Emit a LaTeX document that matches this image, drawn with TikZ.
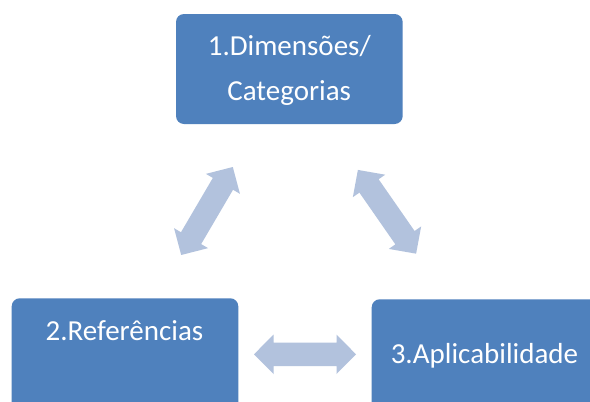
\documentclass[tikz,border=0pt]{standalone}
\usepackage{fontspec}
\setmainfont{Carlito}
\definecolor{boxblue}{HTML}{4F81BD}
\definecolor{arrowblue}{RGB}{178,194,221}
\tikzset{
  box/.style={fill=boxblue, draw=none, rounded corners=8pt, inner sep=0pt, outer sep=0pt},
  lbl/.style={text=white, inner sep=0pt, outer sep=0pt, font=\fontsize{29}{34}\selectfont},
  dblarrow/.pic={
    \fill[arrowblue] (-51,0) -- (-31.5,19.7) -- (-31.5,11.7) -- (31.5,11.7) -- (31.5,19.7)
      -- (51,0) -- (31.5,-19.7) -- (31.5,-11.7) -- (-31.5,-11.7) -- (-31.5,-19.7) -- cycle;
    \coordinate (-c) at (0,0);
  }
}
\begin{document}
\begin{tikzpicture}[x=1pt,y=1pt]
\useasboundingbox (0,0) rectangle (590,-402);
\clip (0,0) rectangle (590,-402);
\fill[white] (0,0) rectangle (590,-402);
% boxes
\draw[box] (176,-14) rectangle (402.7,-124);
\node[inner sep=0pt] (top) at (289.3,-69) {};
\draw[box] (11.7,-298.3) rectangle (238.3,-420);
\node[inner sep=0pt] (left) at (125,-350) {};
\draw[box] (371.7,-299.3) rectangle (598.3,-420);
\node[inner sep=0pt] (right) at (485,-350) {};
% labels
\node[lbl, anchor=base] (t1) at (289.3,-55) {1.Dimensões/};
\node[lbl, anchor=base] (t2) at (289.2,-100) {Categorias};
\node[lbl, anchor=base] (t3) at (124.5,-340.7) {2.Referências};
\node[lbl, anchor=base] (t4) at (484.5,-363.3) {3.Aplicabilidade};
% double arrows
\pic[rotate=59.6] (aL) at (207,-211) {dblarrow};
\pic[rotate=-55.2] (aR) at (387,-211.8) {dblarrow};
\pic (aB) at (305,-354.3) {dblarrow};
\end{tikzpicture}
\end{document}
